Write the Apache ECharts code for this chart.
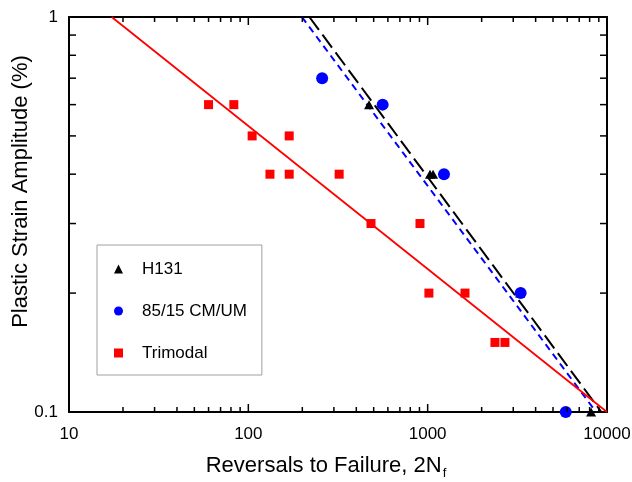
<!DOCTYPE html>
<html>
<head>
<meta charset="utf-8">
<script src="https://cdn.jsdelivr.net/npm/echarts@6/dist/echarts.min.js"></script>
<style>
  html, body { margin: 0; padding: 0; background: #fff; }
  #chart { width: 632px; height: 482px; }
</style>
</head>
<body>
<div id="chart"></div>
<script>
// data (log-log)
const h131X = [471, 1030, 1072, 3273, 8150];
const h131Y = [0.6, 0.4, 0.4, 0.2, 0.1];

const cmumX = [258, 561, 1233, 3300, 5888];
const cmumY = [0.7, 0.6, 0.4, 0.2, 0.1];

const trimodalX = [60, 83, 105, 169, 132, 169, 321, 483, 906, 1016, 1615, 2372, 2697];
const trimodalY = [0.6, 0.6, 0.5, 0.5, 0.4, 0.4, 0.4, 0.3, 0.3, 0.2, 0.2, 0.15, 0.15];

// fit lines, end points
const h131FitX = [219, 9300];
const h131FitY = [1, 0.1];
const cmumFitX = [199, 8690];
const cmumFitY = [1, 0.1];
const trimodalFitX = [17.3, 10000];
const trimodalFitY = [1, 0.1];

const xRange = [10, 10000];
const yRange = [0.1, 1];
const xMajorTicks = [100, 1000];
const xMinorTicks = [20, 30, 40, 50, 60, 70, 80, 90, 200, 300, 400, 500, 600, 700, 800, 900,
    2000, 3000, 4000, 5000, 6000, 7000, 8000, 9000];
const yMinorTicks = [0.2, 0.3, 0.4, 0.5, 0.6, 0.7, 0.8, 0.9];

const FONT = "'Liberation Sans', Arial, sans-serif";
const zip = (xs, ys) => xs.map((x, i) => [x, ys[i]]);

// ticks on all four sides: [x, y, kind]  kind 0 = x minor, 1 = x major, 2 = y minor
const tickData = [];
xMinorTicks.forEach(v => { tickData.push([v, yRange[0], 0]); tickData.push([v, yRange[1], 0]); });
xMajorTicks.forEach(v => { tickData.push([v, yRange[0], 1]); tickData.push([v, yRange[1], 1]); });
yMinorTicks.forEach(v => { tickData.push([xRange[0], v, 2]); tickData.push([xRange[1], v, 2]); });

const tickLen = [5, 8, 7];

const chart = echarts.init(document.getElementById('chart'));

const axisCommon = {
    type: 'log',
    logBase: 10,
    nameMoveOverlap: false,
    axisLine: { show: true, onZero: false, lineStyle: { color: '#000', width: 2 } },
    axisTick: { show: false },
    minorTick: { show: false },
    splitLine: { show: false }
};

chart.setOption({
    animation: false,
    backgroundColor: '#fff',
    textStyle: { fontFamily: FONT },
    grid: { left: 69, right: 25, top: 17, bottom: 70, containLabel: false, outerBoundsMode: 'none' },
    legend: {
        data: ['H131', '85/15 CM/UM', 'Trimodal'],
        orient: 'vertical',
        left: 97,
        top: 245,
        padding: [14, 15, 12, 17],
        itemGap: 22,
        itemWidth: 9,
        itemHeight: 9,
        backgroundColor: '#fff',
        borderColor: '#a0a0a0',
        borderWidth: 1,
        selectedMode: false,
        textStyle: { fontFamily: FONT, fontSize: 17, color: '#000', lineHeight: 20, padding: [0, 0, 0, 14] }
    },
    xAxis: [
        Object.assign({}, axisCommon, {
            position: 'bottom',
            min: xRange[0], max: xRange[1],
            axisLabel: { color: '#000', fontSize: 17, fontFamily: FONT, margin: 14, formatter: v => String(v) },
            name: 'Reversals to Failure, 2N{sub|f}',
            nameLocation: 'middle',
            nameGap: 43,
            nameTextStyle: {
                fontFamily: FONT, fontSize: 22, color: '#000', padding: [0, 24, 0, 0],
                rich: { sub: { fontFamily: FONT, fontSize: 13, lineHeight: 13, padding: [14, 0, 0, 1] } }
            }
        }),
        Object.assign({}, axisCommon, {
            position: 'top',
            min: xRange[0], max: xRange[1],
            axisLabel: { show: false }
        })
    ],
    yAxis: [
        Object.assign({}, axisCommon, {
            position: 'left',
            min: yRange[0], max: yRange[1],
            axisLabel: { color: '#000', fontSize: 17, fontFamily: FONT, margin: 11, formatter: v => String(v) },
            name: 'Plastic Strain Amplitude (%)',
            nameLocation: 'middle',
            nameGap: 37,
            nameTextStyle: { fontFamily: FONT, fontSize: 22, color: '#000', padding: [0, 0, 0, 46] }
        }),
        Object.assign({}, axisCommon, {
            position: 'right',
            min: yRange[0], max: yRange[1],
            axisLabel: { show: false }
        })
    ],
    series: [
        {
            name: 'H131 fit', type: 'line', data: zip(h131FitX, h131FitY),
            showSymbol: false, silent: true, z: 3,
            lineStyle: { color: '#000', width: 2, type: [16, 6] }
        },
        {
            name: '85/15 fit', type: 'line', data: zip(cmumFitX, cmumFitY),
            showSymbol: false, silent: true, z: 3,
            lineStyle: { color: '#0000ff', width: 2, type: [7, 5] }
        },
        {
            name: 'Trimodal fit', type: 'line', data: zip(trimodalFitX, trimodalFitY),
            showSymbol: false, silent: true, z: 3,
            lineStyle: { color: '#ff0000', width: 1.8 }
        },
        {
            name: 'H131', type: 'scatter', data: zip(h131X, h131Y),
            symbol: 'triangle', symbolSize: [10, 9], z: 4,
            itemStyle: { color: '#000', opacity: 1 }
        },
        {
            name: '85/15 CM/UM', type: 'scatter', data: zip(cmumX, cmumY),
            symbol: 'circle', symbolSize: 12, z: 4,
            itemStyle: { color: '#0000ff', opacity: 1 }
        },
        {
            name: 'Trimodal', type: 'scatter', data: zip(trimodalX, trimodalY),
            symbol: 'rect', symbolSize: 9, z: 4,
            itemStyle: { color: '#ff0000', opacity: 1 }
        },
        {
            name: 'ticks', type: 'custom', coordinateSystem: 'cartesian2d',
            silent: true, clip: false, z: 6,
            data: tickData,
            renderItem(params, api) {
                const x = api.value(0), y = api.value(1), kind = api.value(2);
                const p = api.coord([x, y]);
                const len = tickLen[kind];
                let dx = 0, dy = 0;
                if (kind === 2) dx = (x === xRange[0]) ? len : -len;
                else dy = (y === yRange[0]) ? -len : len;
                return {
                    type: 'line',
                    shape: { x1: p[0], y1: p[1], x2: p[0] + dx, y2: p[1] + dy },
                    style: { stroke: '#000', lineWidth: 1.5 }
                };
            }
        }
    ]
});

window.addEventListener('resize', () => chart.resize());
</script>
</body>
</html>
